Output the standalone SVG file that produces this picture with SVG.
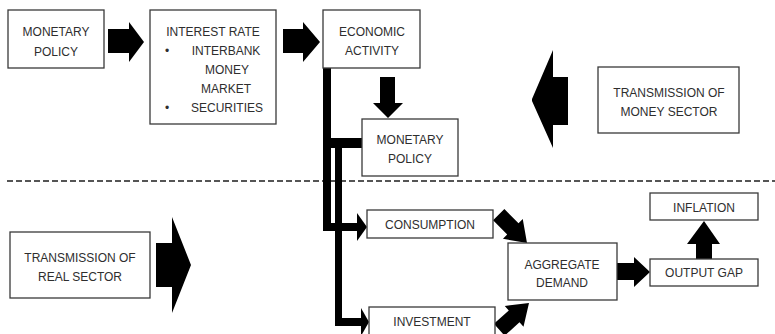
<svg xmlns="http://www.w3.org/2000/svg" width="775" height="334" viewBox="0 0 775 334">
  <style>
    .box { fill: #ffffff; stroke: #3a3a3a; stroke-width: 1.3; }
    .lbl { font-family: "Liberation Sans", Arial, sans-serif; font-size: 12px; fill: #2e2e2e; text-anchor: middle; }
    .blt { font-family: "Liberation Sans", Arial, sans-serif; font-size: 12px; fill: #2e2e2e; }
    .solid { fill: #000000; }
    .divider { stroke: #555555; stroke-width: 2; stroke-dasharray: 6 3; fill: none; }
  </style>

  <rect width="775" height="334" fill="#ffffff"/>

  <!-- sector divider -->
  <line class="divider" x1="7" y1="181" x2="775" y2="181"/>

  <!-- connectors -->
  <g id="connectors">
    <!-- monetary policy -> interest rate -->
    <polygon class="solid" points="108,29 129,29 129,22 144,42 129,62 129,53 108,53"/>
    <!-- interest rate -> economic activity -->
    <polygon class="solid" points="283,29 303,29 303,22 320,42 303,62 303,53 283,53"/>
    <!-- economic activity -> monetary policy (down) -->
    <polygon class="solid" points="380,77 395,77 395,103 403,103 388,118 373,103 380,103"/>
    <!-- trunk from economic activity to consumption -->
    <rect class="solid" x="323" y="68" width="8" height="163"/>
    <rect class="solid" x="323" y="223" width="35" height="8"/>
    <polygon class="solid" points="357,213 367,227 357,241"/>
    <!-- monetary policy link and branch to investment -->
    <rect class="solid" x="331" y="138" width="31" height="10"/>
    <rect class="solid" x="335" y="148" width="7" height="178"/>
    <rect class="solid" x="335" y="318" width="28" height="8"/>
    <polygon class="solid" points="361,308 369,322 361,336"/>
    <!-- consumption -> aggregate demand -->
    <polygon class="solid" transform="translate(527,243) rotate(45)" points="-40,-8 -20,-8 -20,-14 0,0 -20,14 -20,8 -40,8"/>
    <!-- investment -> aggregate demand -->
    <polygon class="solid" transform="translate(529,303) rotate(-42)" points="-40,-8 -20,-8 -20,-14 0,0 -20,14 -20,8 -40,8"/>
    <!-- aggregate demand -> output gap -->
    <polygon class="solid" points="617,263 634,263 634,257 650,272 634,287 634,280 617,280"/>
    <!-- output gap -> inflation (up) -->
    <polygon class="solid" points="696,259 712,259 712,244 720,244 704,221 687,244 696,244"/>
    <!-- money sector transmission direction -->
    <polygon class="solid" points="568,77 553,77 553,50 532,99 532,101 553,148 553,125 568,125"/>
    <!-- real sector transmission direction -->
    <polygon class="solid" points="156,243 172,243 172,217 191,265 172,313 172,287 156,287"/>
  </g>

  <g id="monetary-policy">
    <rect class="box" x="8" y="10" width="96" height="58"/>
    <text class="lbl" x="56" y="36">MONETARY</text>
    <text class="lbl" x="56" y="56">POLICY</text>
  </g>

  <g id="interest-rate">
    <rect class="box" x="150" y="10" width="126" height="114"/>
    <text class="lbl" x="213" y="36">INTEREST RATE</text>
    <text class="blt" x="165" y="55">•</text>
    <text class="lbl" x="226" y="55">INTERBANK</text>
    <text class="lbl" x="227" y="74">MONEY</text>
    <text class="lbl" x="226" y="93">MARKET</text>
    <text class="blt" x="165" y="112">•</text>
    <text class="lbl" x="227" y="112">SECURITIES</text>
  </g>

  <g id="economic-activity">
    <rect class="box" x="323" y="10" width="97" height="58"/>
    <text class="lbl" x="372" y="36">ECONOMIC</text>
    <text class="lbl" x="372" y="55">ACTIVITY</text>
  </g>

  <g id="monetary-policy-feedback">
    <rect class="box" x="362" y="119" width="96" height="57"/>
    <text class="lbl" x="410" y="144">MONETARY</text>
    <text class="lbl" x="410" y="163">POLICY</text>
  </g>

  <g id="transmission-money-sector">
    <rect class="box" x="598" y="67" width="141" height="66"/>
    <text class="lbl" x="669" y="97">TRANSMISSION OF</text>
    <text class="lbl" x="669" y="116">MONEY SECTOR</text>
  </g>

  <g id="transmission-real-sector">
    <rect class="box" x="10" y="232" width="140" height="66"/>
    <text class="lbl" x="80" y="262">TRANSMISSION OF</text>
    <text class="lbl" x="80" y="281">REAL SECTOR</text>
  </g>

  <g id="consumption">
    <rect class="box" x="367" y="210" width="126" height="28"/>
    <text class="lbl" x="430" y="229">CONSUMPTION</text>
  </g>

  <g id="investment">
    <rect class="box" x="369" y="307" width="126" height="30"/>
    <text class="lbl" x="432" y="326">INVESTMENT</text>
  </g>

  <g id="aggregate-demand">
    <rect class="box" x="508" y="243" width="109" height="57"/>
    <text class="lbl" x="562" y="269">AGGREGATE</text>
    <text class="lbl" x="562" y="287">DEMAND</text>
  </g>

  <g id="output-gap">
    <rect class="box" x="650" y="259" width="108" height="27"/>
    <text class="lbl" x="704" y="277">OUTPUT GAP</text>
  </g>

  <g id="inflation">
    <rect class="box" x="650" y="193" width="108" height="27"/>
    <text class="lbl" x="704" y="212">INFLATION</text>
  </g>
</svg>
